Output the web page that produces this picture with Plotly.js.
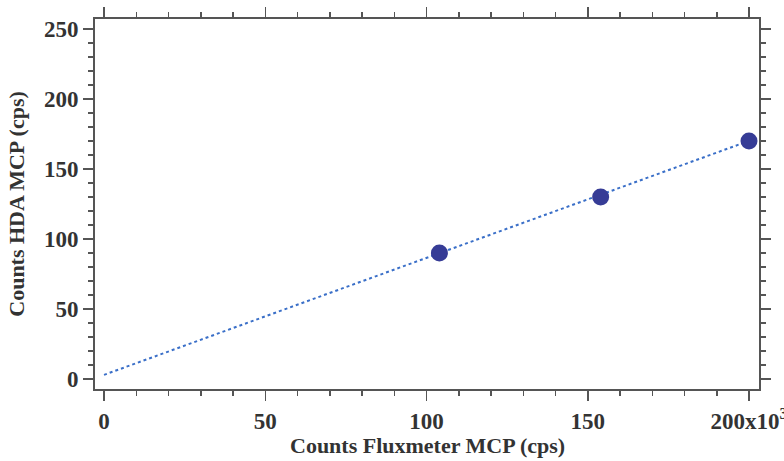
<!DOCTYPE html>
<html><head><meta charset="utf-8">
<script src="https://cdn.plot.ly/plotly-3.0.1.min.js"></script>
<style>html,body{margin:0;padding:0;background:#fff}#chart{width:784px;height:461px}</style>
</head><body><div id="chart"></div>
<script>
const fluxCounts = [104, 154, 200];
const hdaCounts = [90, 130, 170];
const fitX = [0, 200];
const fitY = [3, 170];
const xTickVals = [0, 50, 100, 150, 200];
const xTickText = ['0', '50', '100', '150', '200x10<sup>3</sup>'];
const yTickVals = [0, 50, 100, 150, 200, 250];
const xTitle = 'Counts Fluxmeter MCP (cps)';
const yTitle = 'Counts HDA MCP (cps)';

const axisColor = '#555555';
const fam = '"Liberation Serif", "Times New Roman", serif';
const tickSize = 23;
const titleSize = 22;

const traces = [
  {x: fitX, y: fitY, mode: 'lines', line: {color: '#3a6fc8', width: 2, dash: 'dot'}, hoverinfo: 'skip'},
  {x: fluxCounts, y: hdaCounts, mode: 'markers', marker: {color: '#363c96', size: 17}}
];

const layout = {
  width: 784, height: 461,
  margin: {l: 95, r: 25, t: 19, b: 72},
  showlegend: false,
  paper_bgcolor: '#fff', plot_bgcolor: '#fff',
  font: {family: fam, size: tickSize, color: '#333'},
  xaxis: {
    range: [-2.8, 203.1], showgrid: false, zeroline: false,
    showline: true, linecolor: axisColor, linewidth: 2, mirror: 'allticks',
    ticks: 'outside', ticklen: 10, tickwidth: 1.5, tickcolor: axisColor,
    tickvals: xTickVals, ticktext: xTickText, ticklabeloverflow: 'allow',
    tickfont: {family: fam, size: tickSize, color: '#333'},
    minor: {dtick: 10, ticks: 'outside', ticklen: 5, tickwidth: 1.5, tickcolor: axisColor, showgrid: false}
  },
  yaxis: {
    range: [-7.1, 257], showgrid: false, zeroline: false,
    showline: true, linecolor: axisColor, linewidth: 2, mirror: 'allticks',
    ticks: 'outside', ticklen: 10, tickwidth: 1.5, tickcolor: axisColor,
    tickvals: yTickVals,
    tickfont: {family: fam, size: tickSize, color: '#333'},
    minor: {dtick: 10, ticks: 'outside', ticklen: 5, tickwidth: 1.5, tickcolor: axisColor, showgrid: false},
    title: {text: '<b>' + yTitle + '</b>', font: {family: fam, size: titleSize, color: '#333'}, standoff: 13}
  },
  annotations: [{
    text: '<b>' + xTitle + '</b>', xref: 'paper', yref: 'paper', x: 0.5, y: -0.153,
    xanchor: 'center', yanchor: 'middle', showarrow: false,
    font: {family: fam, size: titleSize, color: '#333'}
  }]
};

Plotly.newPlot('chart', traces, layout, {displayModeBar: false, staticPlot: true}).then(() => {
  document.querySelectorAll('.xtick text, .ytick text').forEach(t => t.style.fontWeight = 'bold');
});
</script>
</body></html>
